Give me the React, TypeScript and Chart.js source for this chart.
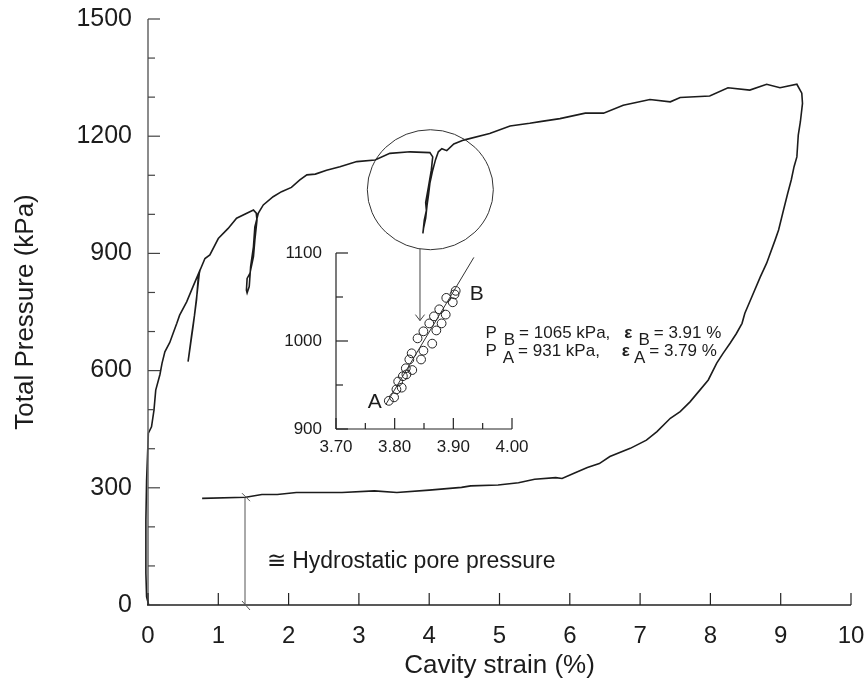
import React, { useEffect, useRef } from 'react';
import { Chart, registerables } from 'chart.js';
Chart.register(...registerables);

const FONT = "'Liberation Sans', Arial, Helvetica, sans-serif";
const INK = '#1c1c1c';

// ---- main curve segments (cavity strain %, total pressure kPa) ----
const loadStrain = [0.01, -0.02, -0.03, -0.03, -0.02, 0.005, 0.05, 0.085, 0.11, 0.17, 0.2, 0.24, 0.31, 0.36, 0.41, 0.45, 0.55, 0.64, 0.72];
const loadPressure = [0, 21, 81, 218, 320, 440, 456, 499, 550, 590, 619, 648, 672, 697, 721, 742, 776, 815, 849];

const loop1Strain = [0.69, 0.64, 0.6, 0.57, 0.59, 0.62, 0.66, 0.7, 0.73];
const loop1Pressure = [781, 712, 661, 623, 650, 690, 740, 800, 850];

const envelope1Strain = [0.74, 0.81, 0.88, 1.0, 1.14, 1.26, 1.5, 1.54];
const envelope1Pressure = [857, 887, 896, 938, 964, 990, 1011, 1003];

const loop2Strain = [1.55, 1.52, 1.5, 1.45, 1.41, 1.4, 1.41, 1.44, 1.46, 1.5, 1.52, 1.57];
const loop2Pressure = [985, 934, 892, 849, 836, 806, 799, 815, 866, 917, 968, 1003];

const envelope2Strain = [1.64, 1.78, 1.9, 2.04, 2.16, 2.26, 2.38, 2.54, 2.73, 2.97, 3.23, 3.44, 3.73, 4.01, 4.05];
const envelope2Pressure = [1024, 1045, 1058, 1069, 1088, 1101, 1103, 1113, 1122, 1135, 1139, 1156, 1160, 1158, 1147];

const loop3Strain = [4.03, 3.99, 3.95, 3.96, 3.93, 3.91, 3.92, 3.95, 3.97, 3.99, 4.01, 4.05, 4.09, 4.13, 4.18];
const loop3Pressure = [1113, 1071, 1030, 1010, 985, 951, 965, 990, 1024, 1050, 1080, 1113, 1140, 1160, 1168];

const envelope3Strain = [4.25, 4.35, 4.49, 4.86, 5.15, 5.43, 5.6, 5.86, 6.22, 6.48, 6.76, 7.14, 7.43, 7.57, 7.99, 8.25, 8.56, 8.8, 8.99, 9.23];
const envelope3Pressure = [1163, 1180, 1190, 1207, 1226, 1233, 1238, 1245, 1259, 1259, 1279, 1294, 1288, 1299, 1303, 1324, 1318, 1333, 1324, 1333];

const unloadStrain = [9.3, 9.31, 9.28, 9.25, 9.23, 9.19, 9.15, 9.1, 9.04, 8.97, 8.92, 8.8, 8.71, 8.59, 8.49, 8.45, 8.37, 8.28, 8.18, 8.09, 7.97, 7.85, 7.71, 7.57, 7.43, 7.24, 7.09, 6.86, 6.57, 6.42, 6.25, 6.06, 5.89, 5.8, 5.5, 5.27, 4.98, 4.59, 4.46, 4.0, 3.54, 3.22, 2.76, 2.11, 1.84, 1.62, 1.39, 0.77];
const unloadPressure = [1310, 1284, 1237, 1203, 1147, 1122, 1088, 1054, 1011, 960, 934, 875, 840, 789, 747, 721, 695, 670, 644, 619, 576, 550, 520, 495, 478, 444, 422, 401, 380, 362, 352, 337, 324, 326, 322, 313, 307, 305, 301, 294, 288, 292, 288, 288, 283, 283, 276, 273];

// ---- inset: loop detail ----
const insetStrain = [3.79, 3.799, 3.803, 3.812, 3.806, 3.814, 3.82, 3.83, 3.819, 3.825, 3.829, 3.845, 3.849, 3.864, 3.839, 3.849, 3.859, 3.871, 3.867, 3.876, 3.88, 3.887, 3.888, 3.899, 3.902, 3.904];
const insetPressure = [932, 936, 945, 947, 954, 960, 962, 967, 969, 979, 986, 979, 989, 997, 1003, 1011, 1020, 1012, 1028, 1036, 1020, 1030, 1049, 1044, 1053, 1057];
const fitStrain = [3.785, 3.935];
const fitPressure = [928, 1095];

// ---- tick settings ----
const mainXTicks = [0, 10, 1];
const mainYTicks = [0, 1500, 100];
const mainYLabelEvery = 300;
const insetXTicks = [3.7, 4.0, 0.05];
const insetYTicks = [900, 1100, 50];

const toPoints = (xs: number[], ys: number[]) => xs.map((v, i) => ({ x: v, y: ys[i] }));

const mainCurve = [
  ...toPoints(loadStrain, loadPressure),
  ...toPoints(loop1Strain, loop1Pressure),
  ...toPoints(envelope1Strain, envelope1Pressure),
  ...toPoints(loop2Strain, loop2Pressure),
  ...toPoints(envelope2Strain, envelope2Pressure),
  ...toPoints(loop3Strain, loop3Pressure),
  ...toPoints(envelope3Strain, envelope3Pressure),
  ...toPoints(unloadStrain, unloadPressure),
];

function seg(ctx: CanvasRenderingContext2D, x1: number, y1: number, x2: number, y2: number) {
  ctx.beginPath();
  ctx.moveTo(x1, y1);
  ctx.lineTo(x2, y2);
  ctx.stroke();
}

type Piece = { t: string; sub?: boolean; bold?: boolean; gap?: number };
function drawRich(ctx: CanvasRenderingContext2D, x: number, y: number, pieces: Piece[], size: number) {
  let cx = x;
  ctx.textAlign = 'left';
  ctx.textBaseline = 'alphabetic';
  for (const p of pieces) {
    cx += p.gap ?? 0;
    ctx.font = `${p.bold ? 'bold ' : ''}${size}px ${FONT}`;
    ctx.fillText(p.t, cx, y + (p.sub ? size * 0.4 : 0));
    cx += ctx.measureText(p.t).width;
  }
}

// keep tick-label overhang from pushing the plot area around
const noOverhang = (s: any) => {
  s.paddingLeft = 0;
  s.paddingRight = 0;
  s.paddingTop = 0;
  s.paddingBottom = 0;
};

const mainDecor = {
  id: 'mainDecor',
  afterDraw(chart: any) {
    const { ctx, chartArea: a } = chart;
    const x = chart.scales.x;
    const y = chart.scales.y;
    ctx.save();
    // axes
    ctx.lineWidth = 1.5;
    ctx.strokeStyle = '#666';
    seg(ctx, a.left, a.top, a.left, a.bottom);
    ctx.strokeStyle = '#222';
    ctx.lineWidth = 1.3;
    seg(ctx, a.left - 1, a.bottom, a.right, a.bottom);
    ctx.lineWidth = 1.2;
    ctx.strokeStyle = '#444';
    y.ticks.forEach((t: any) => {
      const py = y.getPixelForValue(t.value);
      const major = t.value % mainYLabelEvery === 0;
      seg(ctx, a.left, py, a.left + (major ? 12 : 7), py);
    });
    ctx.strokeStyle = '#222';
    x.ticks.forEach((t: any) => {
      const px = x.getPixelForValue(t.value);
      seg(ctx, px, a.bottom, px, a.bottom - 12);
    });

    // titles
    ctx.fillStyle = INK;
    ctx.font = `26px ${FONT}`;
    ctx.textAlign = 'center';
    ctx.textBaseline = 'alphabetic';
    ctx.fillText('Cavity strain (%)', (a.left + a.right) / 2, 673);
    ctx.save();
    ctx.translate(33, (a.top + a.bottom) / 2);
    ctx.rotate(-Math.PI / 2);
    ctx.fillText('Total Pressure (kPa)', 0, 0);
    ctx.restore();

    // circle around the third loop
    const cx = x.getPixelForValue(4.016);
    const cy = y.getPixelForValue(1063);
    const rx = 63, ry = 60;
    ctx.strokeStyle = '#333';
    ctx.lineWidth = 1;
    ctx.beginPath();
    ctx.ellipse(cx, cy, rx, ry, 0, 0, Math.PI * 2);
    ctx.stroke();

    // arrow down to the inset
    const ax = x.getPixelForValue(3.869);
    const dx = ax - cx;
    const ay0 = cy + ry * Math.sqrt(1 - (dx * dx) / (rx * rx));
    const ay1 = y.getPixelForValue(728);
    ctx.strokeStyle = '#444';
    seg(ctx, ax, ay0, ax, ay1);
    ctx.beginPath();
    ctx.moveTo(ax - 4.6, ay1 - 6);
    ctx.lineTo(ax, ay1);
    ctx.lineTo(ax + 4.6, ay1 - 6);
    ctx.stroke();

    // hydrostatic pore pressure dimension line
    const hx = x.getPixelForValue(1.38);
    const hTop = y.getPixelForValue(276);
    const hBot = y.getPixelForValue(0);
    ctx.strokeStyle = '#555';
    ctx.lineWidth = 1;
    seg(ctx, hx, hTop, hx, hBot);
    seg(ctx, hx - 3, hTop - 4, hx + 5, hTop + 4);
    seg(ctx, hx - 3, hBot - 4, hx + 5, hBot + 5);
    ctx.fillStyle = INK;
    ctx.font = `23px ${FONT}`;
    ctx.textAlign = 'left';
    ctx.fillText('\u2245 Hydrostatic pore pressure', x.getPixelForValue(1.69), y.getPixelForValue(94));

    // P / epsilon annotations
    const tx = x.getPixelForValue(4.8);
    ctx.fillStyle = INK;
    drawRich(ctx, tx, y.getPixelForValue(683), [
      { t: 'P' }, { t: 'B', sub: true, gap: 7 }, { t: '= 1065 kPa,', gap: 4 },
      { t: '\u03b5', bold: true, gap: 14 }, { t: 'B', sub: true, gap: 6 }, { t: '= 3.91 %', gap: 4 },
    ], 17);
    drawRich(ctx, tx, y.getPixelForValue(637), [
      { t: 'P' }, { t: 'A', sub: true, gap: 6 }, { t: '= 931 kPa,', gap: 4 },
      { t: '\u03b5', bold: true, gap: 22 }, { t: 'A', sub: true, gap: 4 }, { t: '= 3.79 %', gap: 4 },
    ], 17);
    ctx.restore();
  },
};

const insetDecor = {
  id: 'insetDecor',
  afterDraw(chart: any) {
    const { ctx, chartArea: a } = chart;
    const x = chart.scales.x;
    const y = chart.scales.y;
    ctx.save();
    ctx.strokeStyle = '#222';
    ctx.lineWidth = 1.2;
    seg(ctx, a.left, a.top, a.left, a.bottom);
    seg(ctx, a.left, a.bottom, a.right, a.bottom);
    y.ticks.forEach((t: any) => {
      const py = y.getPixelForValue(t.value);
      const major = Math.round(t.value) % 100 === 0;
      seg(ctx, a.left, py, a.left + (major ? 12 : 7), py);
    });
    x.ticks.forEach((t: any) => {
      const px = x.getPixelForValue(t.value);
      const major = Math.round(t.value * 100) % 10 === 0;
      seg(ctx, px, a.bottom, px, a.bottom - (major ? 11 : 6));
    });
    ctx.fillStyle = INK;
    ctx.font = `21px ${FONT}`;
    ctx.textBaseline = 'alphabetic';
    ctx.textAlign = 'right';
    ctx.fillText('A', x.getPixelForValue(3.778), y.getPixelForValue(924));
    ctx.textAlign = 'left';
    ctx.fillText('B', x.getPixelForValue(3.928), y.getPixelForValue(1047));
    ctx.restore();
  },
};

export default function App() {
  const mainRef = useRef<HTMLCanvasElement>(null);
  const insetRef = useRef<HTMLCanvasElement>(null);

  useEffect(() => {
    document.body.style.margin = '0';
    document.body.style.overflow = 'hidden';

    const main = new Chart(mainRef.current as HTMLCanvasElement, {
      type: 'scatter',
      data: {
        datasets: [
          {
            data: mainCurve,
            showLine: true,
            borderColor: INK,
            borderWidth: 1.6,
            pointRadius: 0,
            tension: 0,
            clip: false as any,
          } as any,
        ],
      },
      options: {
        animation: false,
        responsive: false,
        devicePixelRatio: 1,
        layout: { padding: { left: 0, right: 17, top: 19, bottom: 0 } },
        plugins: { legend: { display: false }, tooltip: { enabled: false } },
        scales: {
          x: {
            type: 'linear',
            min: mainXTicks[0],
            max: mainXTicks[1],
            grid: { display: false, drawTicks: false },
            border: { display: false },
            ticks: { stepSize: mainXTicks[2], autoSkip: false, maxRotation: 0, padding: 17, color: INK, font: { size: 24, family: FONT } },
            afterFit: (s: any) => { s.height = 74; noOverhang(s); },
          },
          y: {
            type: 'linear',
            min: mainYTicks[0],
            max: mainYTicks[1],
            grid: { display: false, drawTicks: false },
            border: { display: false },
            ticks: {
              stepSize: mainYTicks[2],
              autoSkip: false,
              padding: 16,
              color: INK,
              font: { size: 25, family: FONT },
              callback: (v: any) => (Number(v) % mainYLabelEvery === 0 ? String(v) : ''),
            },
            afterFit: (s: any) => { s.width = 148; noOverhang(s); },
          },
        },
      },
      plugins: [mainDecor],
    } as any);

    const inset = new Chart(insetRef.current as HTMLCanvasElement, {
      type: 'scatter',
      data: {
        datasets: [
          {
            data: toPoints(fitStrain, fitPressure),
            showLine: true,
            borderColor: '#333',
            borderWidth: 1,
            pointRadius: 0,
          },
          {
            data: toPoints(insetStrain, insetPressure),
            pointRadius: 4.4,
            pointStyle: 'circle',
            borderColor: '#222',
            borderWidth: 1,
            backgroundColor: 'rgba(0,0,0,0)',
          },
        ],
      },
      options: {
        animation: false,
        responsive: false,
        devicePixelRatio: 1,
        layout: { padding: { left: 0, right: 33, top: 18, bottom: 0 } },
        plugins: { legend: { display: false }, tooltip: { enabled: false } },
        scales: {
          x: {
            type: 'linear',
            min: insetXTicks[0],
            max: insetXTicks[1],
            grid: { display: false, drawTicks: false },
            border: { display: false },
            ticks: {
              stepSize: insetXTicks[2],
              autoSkip: false,
              maxRotation: 0,
              padding: 8,
              color: INK,
              font: { size: 17, family: FONT },
              callback: (v: any) => (Math.round(Number(v) * 100) % 10 === 0 ? Number(v).toFixed(2) : ''),
            },
            afterFit: (s: any) => { s.height = 38; noOverhang(s); },
          },
          y: {
            type: 'linear',
            min: insetYTicks[0],
            max: insetYTicks[1],
            grid: { display: false, drawTicks: false },
            border: { display: false },
            ticks: {
              stepSize: insetYTicks[2],
              autoSkip: false,
              padding: 14,
              color: INK,
              font: { size: 17, family: FONT },
              callback: (v: any) => (Math.round(Number(v)) % 100 === 0 ? String(v) : ''),
            },
            afterFit: (s: any) => { s.width = 76; noOverhang(s); },
          },
        },
      },
      plugins: [insetDecor],
    } as any);

    return () => {
      main.destroy();
      inset.destroy();
    };
  }, []);

  return (
    <div style={{ position: 'relative', width: 868, height: 679 }}>
      <canvas ref={mainRef} width={868} height={679} style={{ position: 'absolute', left: 0, top: 0, display: 'block' }} />
      <canvas ref={insetRef} width={285} height={232} style={{ position: 'absolute', left: 260, top: 235, display: 'block' }} />
    </div>
  );
}
